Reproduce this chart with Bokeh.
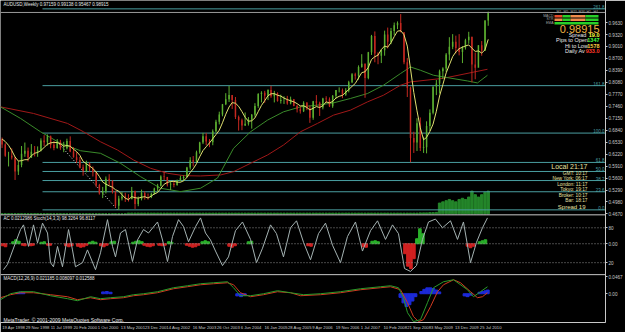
import numpy as np
import pandas as pd
from bokeh.plotting import figure
from bokeh.models import Range1d, FixedTicker, Span, Label, NumeralTickFormatter
from bokeh.core.properties import value
from bokeh.embed import file_html
from bokeh.resources import INLINE

# ---------------- data ----------------
base_date = pd.Timestamp("1998-04-19")
month_start = "1998-04"
prior_close = [0.6510, 0.6670, 0.6800, 0.6610]   # Dec 1997 - Mar 1998

high = [
    .6650, .6500, .6280, .6370, .6150, .6040, .6430, .6520, .6390,
    .6480, .6430, .6420, .6630, .6710, .6730, .6700, .6560, .6610, .6590, .6540, .6620,
    .6680, .6400, .6270, .6150, .5950, .6050, .6010, .5900, .5770, .5450, .5370, .5640,
    .5700, .5540, .5270, .5140, .5240, .5220, .5180, .5370, .5260, .5120, .5300, .5260,
    .5200, .5220, .5350, .5450, .5670, .5780, .5630, .5510, .5540, .5560, .5660, .5670,
    .5890, .6140, .6170, .6310, .6540, .6770, .6770, .6610, .6860, .7110, .7320, .7520,
    .7800, .7990, .7750, .7700, .7220, .7140, .7300, .7180, .7260, .7540, .7800, .7850,
    .7860, .7900, .7990, .7860, .7820, .7760, .7720, .7730, .7710, .7650, .7500, .7460,
    .7590, .7570, .7480, .7600, .7750, .7580, .7680, .7720, .7690, .7750, .7880, .7950,
    .7920, .7930, .8120, .8320, .8330, .8520, .8810, .8570, .8870, .9310, .9400, .8860,
    .8930, .9420, .9500, .9490, .9630, .9660, .9850, .9380, .8710, .7970, .6800, .7150,
    .7170, .6670, .7070, .7380, .7970, .8140, .8410, .8470, .8840, .9250, .9330, .9290,
    .9330, .9020, .9210, .9390, .9260, .8850, .9040, .9150, .9690, .99138]
low = [
    .6380, .6150, .5900, .6080, .5550, .5680, .5880, .6150, .6030,
    .6120, .6160, .6150, .6290, .6430, .6440, .6370, .6320, .6360, .6330, .6270, .6340,
    .6270, .6130, .5990, .5850, .5660, .5750, .5770, .5640, .5360, .5170, .5080, .5200,
    .5420, .5200, .4830, .4775, .5020, .4980, .4990, .5060, .4800, .4870, .5020, .5040,
    .5040, .5080, .5170, .5250, .5380, .5550, .5380, .5290, .5360, .5400, .5510, .5520,
    .5610, .5820, .5900, .6010, .6230, .6480, .6450, .6400, .6450, .6780, .6990, .7200,
    .7490, .7570, .7390, .7130, .6830, .6840, .6950, .6960, .6880, .7190, .7420, .7560,
    .7550, .7620, .7680, .7560, .7580, .7530, .7520, .7500, .7510, .7460, .7300, .7270,
    .7310, .7360, .7030, .7110, .7470, .7210, .7380, .7550, .7440, .7420, .7660, .7820,
    .7670, .7730, .7820, .8060, .8150, .8150, .8460, .7680, .8160, .8790, .8600, .8550,
    .8580, .8770, .8960, .9070, .9300, .9460, .9440, .8550, .7700, .6010, .6250, .6300,
    .6300, .6250, .6240, .6820, .7250, .7750, .7790, .8170, .8350, .8650, .8940, .8830,
    .8780, .8580, .8930, .9080, .8080, .8160, .8540, .8770, .8900, .9547]
close = [
    .6470, .6180, .6180, .6130, .5770, .5940, .6230, .6310, .6130,
    .6280, .6270, .6320, .6570, .6530, .6680, .6460, .6380, .6540, .6370, .6370, .6560,
    .6290, .6140, .6070, .5880, .5780, .5980, .5850, .5750, .5420, .5200, .5260, .5580,
    .5530, .5240, .4880, .5070, .5120, .5080, .5050, .5270, .4930, .5060, .5210, .5110,
    .5100, .5190, .5330, .5400, .5640, .5630, .5430, .5450, .5420, .5550, .5600, .5630,
    .5870, .6060, .6030, .6270, .6520, .6680, .6550, .6530, .6810, .7060, .7250, .7510,
    .7640, .7750, .7620, .7180, .7100, .6960, .7010, .7110, .7240, .7470, .7780, .7810,
    .7730, .7880, .7720, .7800, .7600, .7620, .7620, .7530, .7640, .7470, .7380, .7330,
    .7550, .7410, .7160, .7590, .7550, .7430, .7660, .7640, .7460, .7730, .7880, .7880,
    .7760, .7870, .8080, .8290, .8250, .8480, .8560, .8190, .8860, .9280, .8830, .8770,
    .8910, .9320, .9130, .9410, .9560, .9620, .9380, .8600, .7940, .6640, .6520, .7020,
    .6380, .6400, .6950, .7290, .7970, .8050, .8370, .8440, .8800, .9000, .9130, .8970,
    .8870, .8980, .9170, .9260, .8540, .8460, .9040, .8900, .9680, .98915]
volume = [
    0, 0, 0, 0, 0, 0, 0, 0, 0,
    0, 0, 0, 0, 0, 0, 0, 0, 0, 0, 0, 0,
    0, 0, 0, 0, 0, 0, 0, 0, 0, 0, 0, 0,
    0, 0, 0, 0, 0, 0, 3, 3, 3, 3, 3, 3,
    3, 3, 3, 3, 3, 3, 3, 3, 3, 3, 3, 3,
    3, 3, 3, 3, 3, 3, 3, 3, 3, 3, 3, 3,
    3, 3, 3, 3, 3, 3, 3, 3, 3, 3, 3, 3,
    3, 3, 3, 3, 3, 3, 3, 3, 3, 3, 3, 3,
    3, 3, 3, 3, 3, 3, 3, 3, 3, 3, 3, 3,
    3, 3, 3, 3, 3, 3, 3, 3, 3, 3, 3, 3,
    3, 3, 3, 3, 3, 3, 3, 3, 3, 3, 3, 3,
    4, 4, 4, 5, 5, 6, 45, 50, 55, 60, 55, 50,
    60, 65, 60, 70, 95, 80, 70, 80, 90, 95]

# moving averages (week index, price)
ma_red_week = [-2.7, 41.6, 87.2, 108.7, 131.5, 154.3, 175.8, 198.6, 221.4, 242.9, 265.7, 292.5,
               310.0, 332.8, 355.6, 377.0, 399.8, 422.6, 444.1, 466.9, 489.7, 511.2, 534.0,
               547.4, 591.7, 650.7]
ma_red = [0.7445, 0.7274, 0.7016, 0.6799, 0.6540, 0.6326, 0.6068, 0.5853, 0.5724, 0.5662, 0.5654,
          0.5680, 0.5765, 0.5982, 0.6197, 0.6455, 0.6799, 0.7016, 0.7230, 0.7360, 0.7574, 0.7747,
          0.8005, 0.8091, 0.8186, 0.8419]
ma_green_week = [-2.7, 24.2, 51.0, 77.8, 104.7, 131.5, 158.3, 185.2, 212.0, 238.8, 265.7, 288.5,
                 310.0, 332.8, 355.6, 377.0, 399.8, 422.6, 444.1, 466.9, 489.7, 511.2, 534.0,
                 547.4, 560.8, 578.3, 591.7, 623.9, 637.3, 650.7]
ma_green = [0.7445, 0.7145, 0.6799, 0.6499, 0.6308, 0.6241, 0.5982, 0.5636, 0.5336, 0.5248, 0.5336,
            0.5600, 0.6370, 0.6799, 0.7101, 0.7316, 0.7445, 0.7489, 0.7548, 0.7662, 0.7791, 0.8005,
            0.8308, 0.8478, 0.8393, 0.8264, 0.8220, 0.8116, 0.8065, 0.8264]

fib_ratios = [0.0, 23.6, 38.2, 50.0, 61.8, 100.0, 161.8, 261.8]
fib_low, fib_high = 0.4775, 0.6765
fib_start_week = 53.7
trend_week = [73.8, 154.3]
trend_price = [0.6533, 0.4775]

stoch_week = [1.3, 6.7, 17.4, 24.2, 28.2, 34.9, 41.6, 47.0, 53.7, 60.4, 64.4, 68.4, 73.8, 80.5,
              88.6, 93.9, 97.9, 107.3, 114.0, 124.8, 131.5, 140.9, 147.6, 151.6, 158.3, 165.0,
              174.4, 181.1, 189.2, 195.9, 208.0, 214.7, 221.4, 228.1, 236.2, 242.9, 249.6, 259.0,
              265.7, 272.4, 279.1, 285.8, 295.2, 303.2, 312.6, 322.0, 332.8, 340.8, 348.9, 359.6,
              367.6, 377.0, 386.4, 394.5, 403.9, 413.3, 424.0, 433.4, 442.8, 453.5, 462.9, 473.6,
              483.0, 493.8, 503.2, 513.9, 523.3, 531.3, 539.4, 547.4, 555.5, 563.5, 571.6, 580.9,
              590.4, 601.1, 610.5, 618.5, 627.9, 636.0, 644.0, 650.7]
stoch_val = [8, 17, 54, 77, 85, 48, 85, 54, 88, 71, 20, 13, 48, 13, 77, 42, 13, 20, 42, 8, 37, 94,
             48, 30, 71, 77, 22, 59, 77, 71, 90, 59, 22, 65, 94, 82, 56, 82, 97, 71, 59, 40, 15, 30,
             75, 90, 60, 20, 45, 85, 70, 30, 80, 92, 55, 25, 70, 88, 50, 20, 65, 90, 40, 75, 92, 60,
             85, 70, 10, 5, 15, 60, 90, 95, 80, 92, 60, 90, 20, 55, 80, 97]
ac_week = [0, 4, 14, 18, 22, 27, 30, 38, 41, 52, 56, 61, 64, 85, 89, 93, 101, 105, 109, 113,
           117, 121, 125, 132, 136, 140, 146, 150, 175, 179, 183, 187, 190, 194, 198, 202,
           210, 214, 218, 223, 227, 247, 251, 255, 259, 263, 268, 272, 276,
           304, 308, 312, 330, 334, 410, 414, 484, 488, 496, 500, 504,
           540, 544, 548, 552, 556, 560, 564, 624, 628, 632, 640, 644, 648]
ac_val = [-0.004, -0.006, 0.004, 0.008, 0.005, -0.003, -0.004, -0.004, -0.003, 0.003, 0.004,
          -0.003, -0.003, -0.004, -0.006, -0.004, -0.005, -0.007, -0.006, -0.003,
          0.003, 0.005, 0.003, -0.004, -0.006, -0.003, 0.004, 0.005, 0.003, 0.005, 0.006, 0.004,
          -0.003, -0.005, -0.006, -0.004, -0.003, -0.004, -0.003, 0.004, 0.003,
          -0.003, -0.005, -0.007, -0.006, -0.003, 0.004, 0.006, 0.004,
          -0.005, -0.007, -0.004, 0.004, 0.005, -0.004, -0.005, -0.006, -0.007, 0.005, 0.006, 0.004,
          -0.020, -0.045, -0.050, -0.030, 0.010, 0.030, 0.020, -0.005, -0.008, -0.005,
          0.004, 0.006, 0.008]

macd_sig_week = [-2.7, 10.7, 24.2, 41.6, 64.4, 87.2, 100.6, 118.1, 131.5, 144.9, 162.4, 175.8, 189.2,
                 208.0, 229.4, 248.2, 265.7, 283.1, 301.9, 310.0, 319.3, 332.8, 350.2, 369.0, 386.4,
                 399.8, 426.7, 453.5, 480.4, 507.2, 520.6, 534.0, 543.4, 551.5, 558.2, 564.9, 574.3,
                 583.7, 591.7, 605.2, 614.5, 628.0, 637.3, 644.0, 650.7]
macd_sig = [-0.0109, -0.0027, 0.0027, 0.0027, -0.0027, -0.0082, -0.0164, -0.0109, -0.0164, -0.0136,
            -0.0109, -0.0055, -0.0027, 0.0027, 0.0136, 0.0191, 0.0245, 0.0273, 0.0300, 0.0245, 0.0027,
            -0.0082, -0.0027, 0.0055, 0.0027, -0.0055, -0.0027, 0.0027, 0.0109, 0.0164, 0.0191, 0.0109,
            -0.0245, -0.0627, -0.0763, -0.0709, -0.0354, 0.0055, 0.0245, 0.0382, 0.0300, 0.0055,
            -0.0109, -0.0082, 0.0027]
macd_main_week = [-2.7, 10.7, 24.2, 41.6, 64.4, 87.2, 100.6, 118.1, 131.5, 144.9, 162.4, 175.8, 189.2,
                  208.0, 229.4, 248.2, 265.7, 283.1, 301.9, 310.0, 319.3, 332.8, 350.2, 369.0, 386.4,
                  403.9, 426.7, 453.5, 480.4, 507.2, 520.6, 531.3, 538.0, 543.4, 551.5, 560.8, 570.2,
                  578.3, 591.7, 605.2, 623.9, 631.9, 641.3, 650.7]
macd_main = [-0.0164, 0.0, 0.0055, 0.0055, -0.0055, -0.0136, -0.0191, -0.0082, -0.0136, -0.0109,
             -0.0082, -0.0027, 0.0, 0.0055, 0.0164, 0.0218, 0.0273, 0.0300, 0.0327, 0.0164, -0.0055,
             -0.0055, 0.0, 0.0082, 0.0027, -0.0027, 0.0, 0.0055, 0.0136, 0.0191, 0.0218, 0.0164,
             -0.0109, -0.0518, -0.0763, -0.0709, -0.0245, 0.0164, 0.0327, 0.0382, 0.0109, -0.0082,
             0.0055, 0.0191]
macd_hist_week = [20, 24, 28, 135, 140, 145, 315, 320, 325, 534, 538, 542, 546, 550, 554, 562, 566,
                  570, 574, 578, 582, 586, 620, 624, 628, 640, 644, 648, 651]
macd_hist = [0.003, 0.004, 0.003, 0.005, 0.006, 0.004, -0.006, -0.008, -0.005, -0.010, -0.025, -0.035,
             -0.030, -0.020, -0.008, 0.006, 0.012, 0.016, 0.016, 0.014, 0.010, 0.005, -0.006, -0.008,
             -0.004, 0.004, 0.006, 0.008, 0.010]

x_labels = ["19 Apr 1998", "29 Nov 1998", "11 Jul 1999", "20 Feb 2000", "1 Oct 2000", "13 May 2001",
            "23 Dec 2001", "4 Aug 2002", "16 Mar 2003", "26 Oct 2003", "6 Jun 2004", "16 Jan 2005",
            "28 Aug 2005", "9 Apr 2006", "19 Nov 2006", "1 Jul 2007", "10 Feb 2008", "21 Sep 2008",
            "3 May 2009", "13 Dec 2009", "25 Jul 2010"]
price_ticks = [0.4670, 0.4980, 0.5290, 0.5600, 0.5910, 0.6220, 0.6530, 0.6840, 0.7150, 0.7460,
               0.7770, 0.8080, 0.8390, 0.8700, 0.9010, 0.9320, 0.9630]
bid = 0.98915

# ---------------- layout helpers ----------------
W, H = 625, 332
BOTTOM, RIGHT = 9, 20
FH, FW = H - BOTTOM, W - RIGHT
WPX = 0.7453          # pixels per week
PPX = 0.0025838       # price per pixel

def wk(px):
    return (px - 2.0) / WPX

def pr(py):
    return bid - (py - 12.0) * PPX

def sub_range(va, pya, vb, pyb):
    s = (va - vb) / (pyb - pya)
    return Range1d(start=va - (FH - pya) * s, end=va + pya * s)

main_y = Range1d(start=pr(FH), end=pr(0))
rngs = {
    "stoch": sub_range(80, 228, 20, 263),
    "ac": sub_range(0.0, 244, 0.01, 239),
    "macd": sub_range(0.0467, 277, -0.0787, 323),
    "vol": sub_range(0, 214, 100, 190),
}

def to_main(v, name):
    r = rngs[name]
    return main_y.start + (v - r.start) / (r.end - r.start) * (main_y.end - main_y.start)

p = figure(width=W, height=H, output_backend="svg", toolbar_location=None,
           x_range=Range1d(wk(0), wk(FW)), y_range=main_y, y_axis_location="right",
           background_fill_color="black", border_fill_color="black",
           min_border_left=0, min_border_top=0, min_border_right=RIGHT, min_border_bottom=BOTTOM,
           outline_line_color=None)
p.extra_y_ranges = rngs
p.grid.visible = False

FONT = value("Liberation Sans")
AX = "#c8c8c8"
XFS = 4.2

# x axis: MT4 writes each date starting at its bar, so the label centre sits half a label to the right
base = base_date
def label_w(s):
    return sum(0.278 * XFS if ch == " " else 0.53 * XFS for ch in s)
xt = [round((pd.Timestamp(s) - base).days / 7 + label_w(s) / 2 / WPX, 3) for s in x_labels]
p.xaxis.ticker = FixedTicker(ticks=xt)
p.xaxis.major_label_overrides = {t: s for t, s in zip(xt, x_labels)}
p.xaxis.major_label_text_font_size = f"{XFS}px"
p.xaxis.major_label_text_font = "Liberation Sans"
p.xaxis.major_label_text_color = AX
p.xaxis.major_label_standoff = 2
p.xaxis.major_tick_out = 0
p.xaxis.major_tick_in = 0
p.xaxis.major_tick_line_color = None
p.xaxis.minor_tick_line_color = None
p.xaxis.axis_line_color = AX

# right axis: price ticks + sub-window ticks
sub_ticks = [("stoch", 80, "80"), ("stoch", 20, "20"), ("ac", 0.0, "0.00"),
             ("macd", 0.0467, "0.0467"), ("macd", 0.0, "0.00"), ("macd", -0.0787, "-0.0787")]
yt = list(price_ticks)
ov = {}
for t in price_ticks:
    ov[t] = f"{t:.4f}"
for name, v, lab in sub_ticks:
    pos = round(to_main(v, name), 6)
    yt.append(pos)
    ov[pos] = lab
p.yaxis.ticker = FixedTicker(ticks=yt)
p.yaxis.major_label_overrides = ov
p.yaxis.formatter = NumeralTickFormatter(format="0.0000")
p.yaxis.major_label_text_font_size = "4.6px"
p.yaxis.major_label_text_font = "Liberation Sans"
p.yaxis.major_label_text_color = AX
p.yaxis.major_label_standoff = 1
p.yaxis.major_tick_out = 2
p.yaxis.major_tick_in = 0
p.yaxis.minor_tick_line_color = None
p.yaxis.axis_line_color = AX
p.yaxis.major_tick_line_color = AX

# ---------------- main window ----------------
months = pd.period_range(month_start, periods=len(close), freq="M")
mx = np.array([((m.to_timestamp() + pd.Timedelta(days=14)) - base).days / 7 for m in months])
opn = [prior_close[-1]] + close[:-1]
up = [c >= o for o, c in zip(opn, close)]
UPC, DNC = "#5cb030", "#c42820"
cols = [UPC if u else DNC for u in up]

# volumes
p.vbar(x=mx, top=volume, bottom=0, width=3.2, color="#24862a", y_range_name="vol")

# fibonacci levels
fib_prices = [fib_low + r / 100 * (fib_high - fib_low) for r in fib_ratios]
FIBC = "#4a9ea0"
p.segment(x0=[fib_start_week] * len(fib_prices), x1=[wk(FW)] * len(fib_prices),
          y0=fib_prices, y1=fib_prices, line_color=FIBC, line_width=1)
p.text(x=[wk(FW - 1)] * len(fib_prices), y=fib_prices, text=[f"{r:.1f}" for r in fib_ratios],
       text_color=FIBC, text_font_size="4.5px", text_align="right", text_baseline="bottom",
       text_font=FONT)
p.line(trend_week, trend_price, line_color="#e0e0e0", line_dash="1 2", line_width=1)

# bid line
p.add_layout(Span(location=bid, dimension="width", line_color="#9a9a9a", line_width=1))

# moving averages
yellow = pd.Series(prior_close + close).rolling(5).mean().iloc[len(prior_close):].to_numpy()
p.line(ma_red_week, ma_red, line_color="#a01818", line_width=1)
p.line(ma_green_week, ma_green, line_color="#3a8a2a", line_width=1)

# candles
p.segment(x0=mx, x1=mx, y0=low, y1=high, line_color=cols, line_width=1)
p.vbar(x=mx, width=2.0, top=np.maximum(opn, close), bottom=np.minimum(opn, close),
       fill_color=cols, line_color=None)
p.line(mx, yellow, line_color="#e0e070", line_width=1)

# panel separators
for py in (215, 275):
    p.add_layout(Span(location=pr(py), dimension="width", line_color=AX, line_width=1))

# ---------------- sub window 1: AC + stochastic ----------------
for lv in (80, 20):
    p.add_layout(Span(location=to_main(lv, "stoch"), dimension="width", line_color="#909090",
                      line_dash="1 2", line_width=1))
p.add_layout(Span(location=to_main(0, "ac"), dimension="width", line_color="#909090",
                  line_dash="1 2", line_width=1))
ac_cols = ["#2ab02a" if v > 0 else "#d02020" for v in ac_val]
p.vbar(x=ac_week, top=ac_val, bottom=0, width=3.5, color=ac_cols, y_range_name="ac")
p.line(stoch_week, stoch_val, line_color="#a4b2b2", line_width=1, y_range_name="stoch")

# ---------------- sub window 2: MACD ----------------
p.vbar(x=macd_hist_week, top=macd_hist, bottom=0, width=4, color="#1c2ad8", y_range_name="macd")
p.line(macd_sig_week, macd_sig, line_color="#d03a20", line_width=1, y_range_name="macd")
p.line(macd_main_week, macd_main, line_color="#2a9a2a", line_width=1, y_range_name="macd")

# ---------------- texts ----------------
def put(xpx, ypx, s, color="#ffffff", size=5.0, align="left", style="normal"):
    p.text(x=[wk(xpx)], y=[pr(ypx)], text=[s], text_color=color, text_font_size=f"{size}px",
           text_align=align, text_baseline="middle", text_font=FONT, text_font_style=style)

put(3, 4, "AUDUSD,Weekly  0.97159 0.99138 0.95467 0.98915", "#e8e8e8", 4.5)
put(3, 219, "AC 0.0212986   Stoch(14,3,3) 98.3264 96.8117", "#e8e8e8", 4.5)
put(3, 279, "MACD(12,26,9) 0.021185 0.008097 0.012588", "#e8e8e8", 4.5)
put(3, 320, "MetaTrader, \u00a9 2001-2009 MetaQuotes Software Corp.", "#e8e8e8", 5.0)

# info panel (top right)
for xx, s in zip([556, 563, 570, 578, 586, 593], ["M1", "M5", "M15", "M30", "H1", "H4"]):
    put(xx, 11.5, s, "#a0a0a0", 3.5)
for yy, s in zip([15.5, 19.0, 22.5], ["MACD", "STR", "EMA"]):
    put(553, yy, s, "#a0a0a0", 3.5, align="right")
seg_rows = [
    (14.5, 17.0, [(554, 562, "#e84a2a"), (562, 570, "#28d028"), (570, 585, "#f08a4a"), (585, 598, "#28d028")]),
    (18.0, 20.5, [(554, 562, "#f08a4a"), (562, 570, "#28d028"), (570, 585, "#f08a4a"), (585, 598, "#28d028")]),
    (21.5, 24.0, [(554, 598, "#28d028")]),
]
for top, bot, segs in seg_rows:
    p.quad(left=[wk(a) for a, b, c in segs], right=[wk(b) for a, b, c in segs],
           top=[pr(top)] * len(segs), bottom=[pr(bot)] * len(segs),
           fill_color=[c for a, b, c in segs], line_color=None)

put(599, 29, "0.98915", "#f0b440", 11, align="right")
info = [(34.5, "Spread ", "19.0", "#ffff40"), (40.0, "Pips to Open", "1347", "#40ff40"),
        (45.5, "Hi to Low", "1578", "#ffd040"), (51.0, "Daily Av", "933.0", "#ff3a2a")]
for yy, lab, val, c in info:
    put(599, yy, val, c, 5.5, align="right", style="bold")
    put(599 - 2.9 * len(val), yy, lab, "#e8e8e8", 5.5, align="right")

# clock (bottom right)
CLK = "#e8e0a0"
put(587, 167, "Local 21:17", CLK, 7, align="right")
clock = [(173.5, "GMT: 10:17"), (179.0, "New York: 06:17"), (184.5, "London: 11:17"),
         (190.0, "Tokyo: 19:17"), (195.5, "Broker: 10:17"), (201.0, "Bar: 18:17")]
for yy, s in clock:
    put(587, yy, s, CLK, 4.8, align="right")
put(585, 207, "Spread 19", CLK, 6, align="right")

# current price marker on the axis
p.add_layout(Label(x=wk(FW + 1), y=bid, text="0.98915", text_font_size="4.6px",
                   text_color="black", background_fill_color="white", text_baseline="middle",
                   text_font="Liberation Sans"))

open("out.html", "w").write(file_html(p, INLINE))
